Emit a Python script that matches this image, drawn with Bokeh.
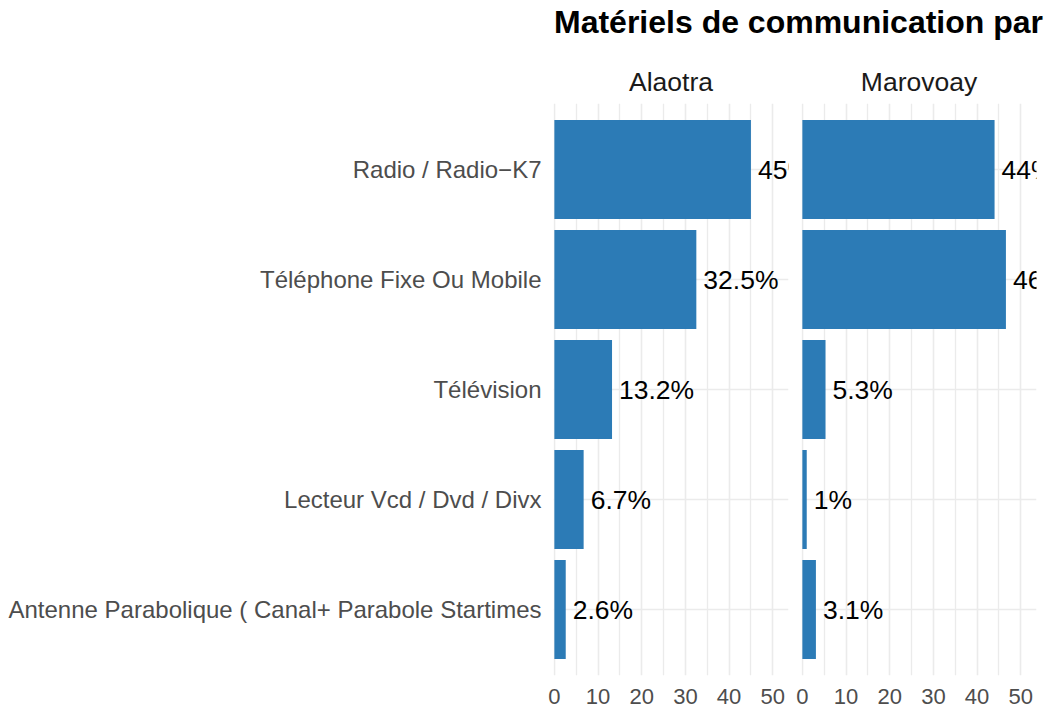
from bokeh.plotting import figure
from bokeh.models import FactorRange, Range1d, FixedTicker, ColumnDataSource, Div
from bokeh.layouts import row, column
from bokeh.embed import file_html
from bokeh.resources import INLINE
from bokeh.core.properties import value

# ---- data -------------------------------------------------------------
title_text = "Matériels de communication par"
categories = [
    "Radio / Radio\u2212K7",
    "Téléphone Fixe Ou Mobile",
    "Télévision",
    "Lecteur Vcd / Dvd / Divx",
    "Antenne Parabolique ( Canal+ Parabole Startimes",
]
regions = ["Alaotra", "Marovoay"]
alaotra = [45, 32.5, 13.2, 6.7, 2.6]
marovoay = [44, 46.6, 5.3, 1, 3.1]
x_ticks = [0, 10, 20, 30, 40, 50]

# ---- styling ----------------------------------------------------------
FONT = "Liberation Sans"
BAR = "#2C7BB6"
GRID = "#EBEBEB"


def fmt(v):
    return f"{v:g}%"


def make_panel(name, vals, show_y, mb_left, mb_right):
    src = ColumnDataSource(dict(cat=categories, val=vals, lab=[fmt(v) for v in vals]))
    p = figure(
        y_range=FactorRange(*reversed(categories), range_padding=0.04),
        x_range=Range1d(-0.2, 53.6),
        frame_width=235, frame_height=572,
        min_border_left=mb_left, min_border_right=mb_right,
        min_border_top=63, min_border_bottom=20,
        y_axis_location="left" if show_y else None,
        output_backend="svg", toolbar_location=None,
        title=name,
    )
    p.hbar(y="cat", left=0, right="val", height=0.9, source=src,
           fill_color=BAR, line_color=None)
    p.text(x="val", y="cat", text="lab", source=src, x_offset=7,
           text_align="left", text_baseline="middle",
           text_font=value(FONT), text_font_size="26.5px", text_color="black")

    p.title.align = "center"
    p.title.text_font = FONT
    p.title.text_font_size = "26.5px"
    p.title.text_font_style = "normal"
    p.title.text_color = "#1A1A1A"
    p.title.standoff = 14

    minor = [t + 5 for t in x_ticks]
    p.xaxis.ticker = FixedTicker(ticks=x_ticks, minor_ticks=minor)
    p.xaxis.axis_line_color = None
    p.xaxis.major_tick_line_color = None
    p.xaxis.minor_tick_line_color = None
    p.xaxis.major_tick_out = 0
    p.xaxis.major_label_standoff = 9
    p.xaxis.major_label_text_font = FONT
    p.xaxis.major_label_text_font_size = "22px"
    p.xaxis.major_label_text_color = "#4D4D4D"
    if show_y:
        p.yaxis.axis_line_color = None
        p.yaxis.major_tick_line_color = None
        p.yaxis.major_tick_out = 0
        p.yaxis.major_label_standoff = 12
        p.yaxis.major_label_text_font = FONT
        p.yaxis.major_label_text_font_size = "24px"
        p.yaxis.major_label_text_color = "#4D4D4D"

    p.xgrid.grid_line_color = GRID
    p.xgrid.grid_line_width = 1.6
    p.xgrid.minor_grid_line_color = GRID
    p.xgrid.minor_grid_line_width = 1.3
    p.ygrid.grid_line_color = GRID
    p.ygrid.grid_line_width = 1.6
    p.outline_line_color = None
    p.background_fill_color = "white"
    p.border_fill_color = "white"
    return p


p1 = make_panel(regions[0], alaotra, True, 553, 7)
p2 = make_panel(regions[1], marovoay, False, 6, 12)

head = Div(
    text=(f'<div style="font-family:\'{FONT}\';font-weight:bold;font-size:32px;'
          f'color:black;padding-left:554px;line-height:1;margin-top:6px;'
          f'white-space:nowrap;">{title_text}</div>'),
    width=1048, height=40, margin=(0, 0, 0, 0),
)

p = column(head, row(p1, p2))

open("out.html", "w").write(file_html(p, INLINE))
